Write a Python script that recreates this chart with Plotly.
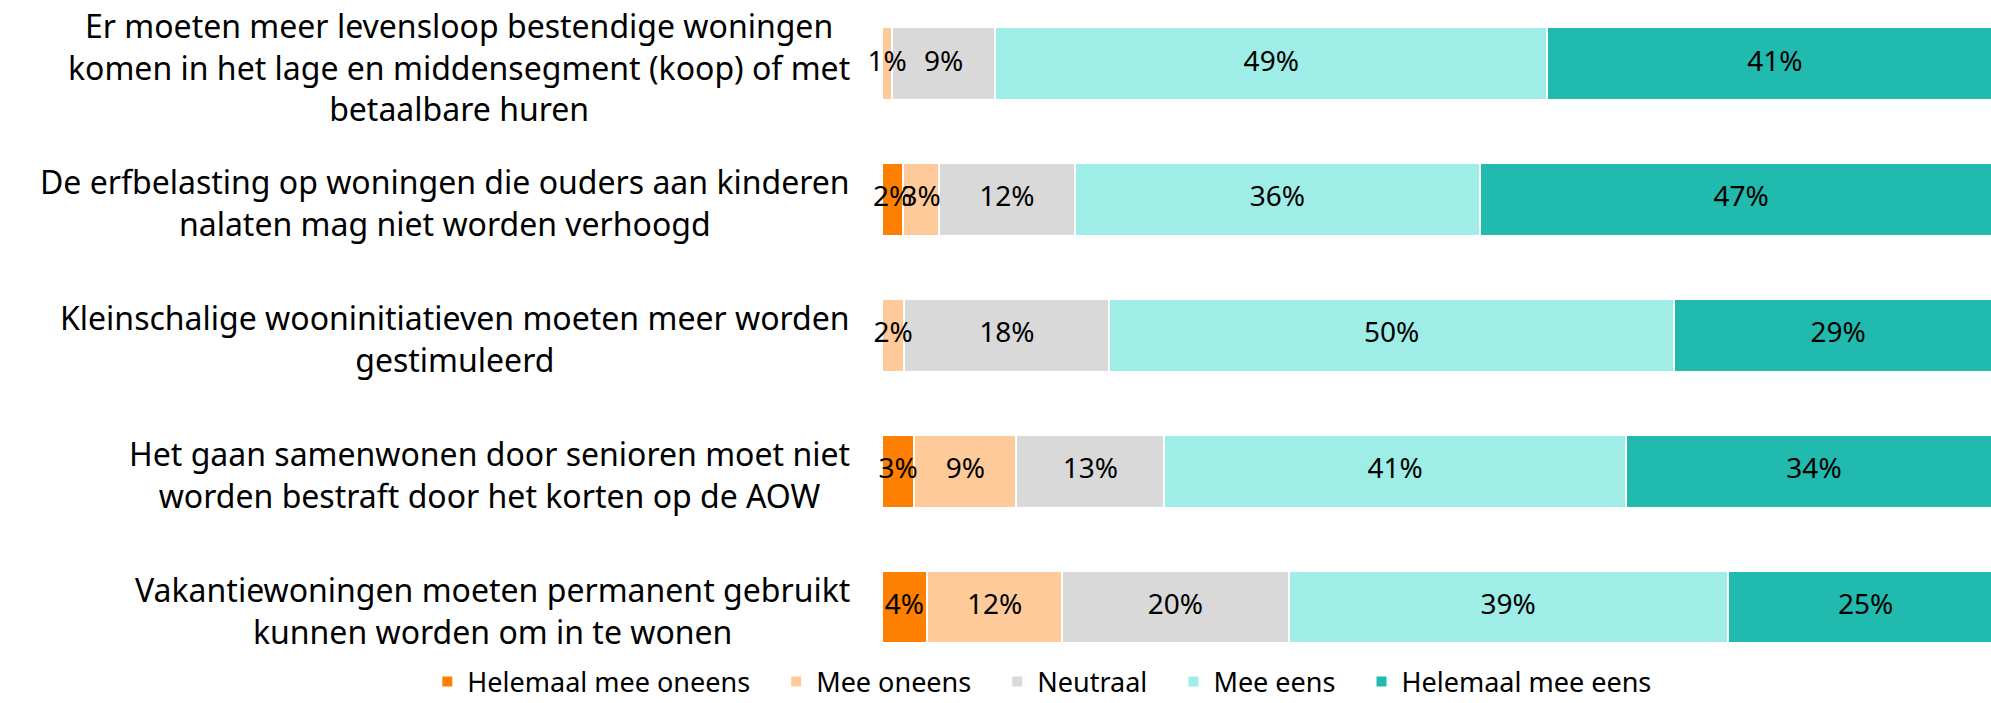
import plotly.graph_objects as go

categories = [
    "Er moeten meer levensloop bestendige woningen<br>komen in het lage en middensegment (koop) of met<br>betaalbare huren",
    "De erfbelasting op woningen die ouders aan kinderen<br>nalaten mag niet worden verhoogd",
    "Kleinschalige wooninitiatieven moeten meer worden<br>gestimuleerd",
    "Het gaan samenwonen door senioren moet niet<br>worden bestraft door het korten op de AOW",
    "Vakantiewoningen moeten permanent gebruikt<br>kunnen worden om in te wonen",
]
cat_ids = ["Q1", "Q2", "Q3", "Q4", "Q5"]

series_names = ["Helemaal mee oneens", "Mee oneens", "Neutraal", "Mee eens", "Helemaal mee eens"]
helemaal_oneens = [None, 1.9, None, 2.9, 4.0]
mee_oneens = [0.9, 3.2, 2.0, 9.1, 12.1]
neutraal = [9.2, 12.1, 18.3, 13.2, 20.2]
mee_eens = [49.3, 36.2, 50.4, 41.2, 39.2]
helemaal_eens = [40.6, 46.6, 29.3, 33.6, 24.6]
series_values = [helemaal_oneens, mee_oneens, neutraal, mee_eens, helemaal_eens]
colors = ["#FF7F00", "#FFCA99", "#D9D9D9", "#9EEDE6", "#20BAAF"]

FONT = "Noto Sans"
PAD = "\u00a0\u00a0\u00a0"

fig = go.Figure()
for name, vals, col in zip(series_names, series_values, colors):
    fig.add_trace(go.Bar(
        y=cat_ids, x=vals, name=name + PAD, orientation="h",
        marker=dict(color=col, line=dict(color="white", width=2)),
        hoverinfo="skip",
    ))

# value labels drawn on top of all bars (centred on each segment)
lab_x, lab_y, lab_t = [], [], []
for i, cid in enumerate(cat_ids):
    start = 0.0
    for vals in series_values:
        v = vals[i]
        if v is None:
            continue
        lab_x.append(start + v / 2)
        lab_y.append(cid)
        lab_t.append(f"{round(v):.0f}%")
        start += v
fig.add_trace(go.Scatter(
    x=lab_x, y=lab_y, text=lab_t, mode="text", textposition="middle center",
    textfont=dict(family=FONT, size=28, color="#000000"),
    showlegend=False, hoverinfo="skip", cliponaxis=False,
))

annotations = []
for cid, label in zip(cat_ids, categories):
    annotations.append(dict(
        x=0, xref="paper", y=cid, yref="y", xanchor="right", yanchor="middle",
        xshift=-30, yshift=-3, align="center", showarrow=False, text=label,
        font=dict(family=FONT, size=32, color="#000000"),
    ))

fig.update_layout(
    barmode="stack", bargap=0.47,
    width=1991, height=703,
    margin=dict(l=882, r=0, t=0, b=30, pad=0, autoexpand=False),
    paper_bgcolor="white", plot_bgcolor="white",
    font=dict(family=FONT, color="#000000"),
    xaxis=dict(range=[0, 99.0], showgrid=False, zeroline=False, showticklabels=False, showline=False),
    yaxis=dict(type="category", categoryorder="array", categoryarray=cat_ids,
               range=[4.482, -0.467], showticklabels=False, showgrid=False, zeroline=False),
    legend=dict(orientation="h", x=-0.410, xanchor="left", y=-0.0134, yanchor="middle",
                font=dict(family=FONT, size=27, color="#000000"), traceorder="normal",
                itemwidth=30),
    annotations=annotations,
    showlegend=True,
)

fig.write_html("out.html", config={"displayModeBar": False})

with open("out.html", "r", encoding="utf-8") as f:
    html = f.read()
html = html.replace("<head>", "<head><style>html,body{margin:0;padding:0;overflow:hidden;}</style>", 1)
with open("out.html", "w", encoding="utf-8") as f:
    f.write(html)
